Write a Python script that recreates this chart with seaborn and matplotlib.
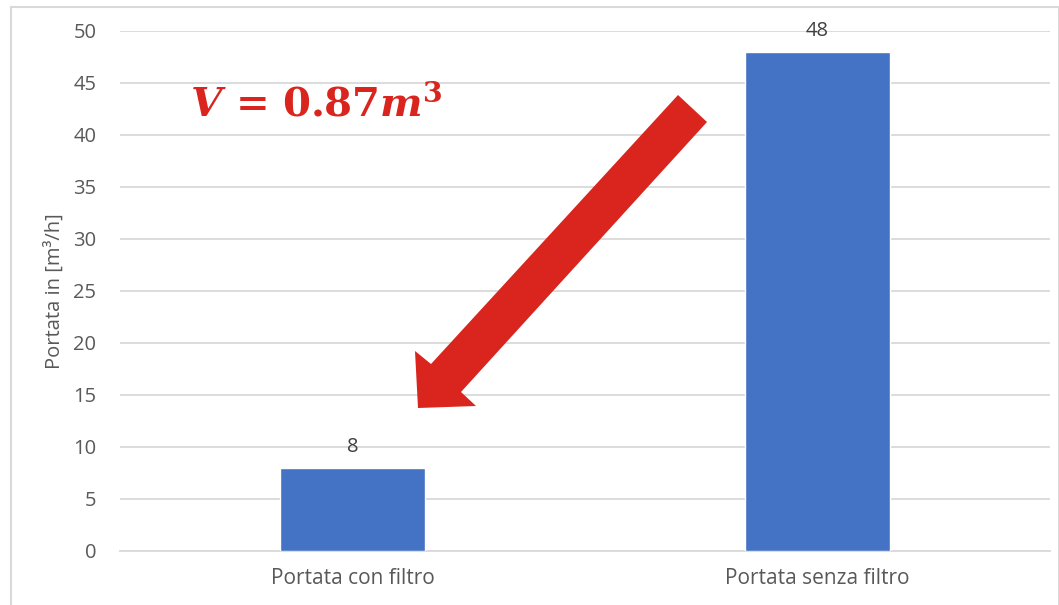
import matplotlib
matplotlib.use("Agg")
import matplotlib.pyplot as plt
from matplotlib.patches import Polygon, Rectangle
import seaborn as sns
import pandas as pd

categories = ["Portata con filtro", "Portata senza filtro"]
values = [8, 48]
yticks = [0, 5, 10, 15, 20, 25, 30, 35, 40, 45, 50]

sns.set_theme(style="white")
plt.rcParams["font.family"] = ["Open Sans", "DejaVu Sans"]
plt.rcParams["mathtext.fontset"] = "dejavuserif"

W, H = 1059, 605
fig = plt.figure(figsize=(W / 100, H / 100), dpi=100)
ax = fig.add_axes([120 / W, 1 - 551 / H, 930 / W, 520 / H])

df = pd.DataFrame({"cat": categories, "val": values})
sns.barplot(data=df, x="cat", y="val", color="#4472C4", saturation=1,
            width=0.31, ax=ax, zorder=3)

ax.set_ylim(0, 50)
ax.set_yticks(yticks)
ax.set_xlim(-0.5, 1.5)
ax.yaxis.grid(True, color="#D9D9D9", linewidth=1.3, zorder=0)
ax.set_axisbelow(True)
for s in ["top", "right", "left"]:
    ax.spines[s].set_visible(False)
ax.spines["bottom"].set_color("#D9D9D9")
ax.spines["bottom"].set_linewidth(1.3)
ax.tick_params(axis="y", length=0, labelsize=14.5, colors="#595959", pad=17)
ax.tick_params(axis="x", length=0, labelsize=15, colors="#595959", pad=12)
ax.set_xlabel("")
ax.set_ylabel("Portata in [m³/h]", fontsize=14.5, color="#595959", labelpad=6)

for i, v in enumerate(values):
    ax.text(i, v + 1.0, f"{v}", ha="center", va="bottom",
            fontsize=14.5, color="#404040")

# Outer chart frame
fig.patches.append(Rectangle((11 / W, -0.02), 1047.5 / W, 1.02 - 7 / H,
                             transform=fig.transFigure, fill=False,
                             edgecolor="#D9D9D9", linewidth=1.5, zorder=0))

# Red callout arrow
pts_px = [(678, 95), (707, 122), (461, 392), (476, 406),
          (418, 408), (415, 351), (431, 364)]
pts = [(x / W, 1 - y / H) for x, y in pts_px]
fig.patches.append(Polygon(pts, closed=True, transform=fig.transFigure,
                           facecolor="#D9251D", edgecolor="none", zorder=5))

fig.text(190 / W, 1 - 115 / H,
         r"$\boldsymbol{V}\,\mathbf{=}\,\mathbf{0.87}\boldsymbol{m}^{\mathbf{3}}$",
         fontsize=29, color="#D9251D", ha="left", va="baseline")

fig.savefig("out.png", dpi=100, facecolor="white")
